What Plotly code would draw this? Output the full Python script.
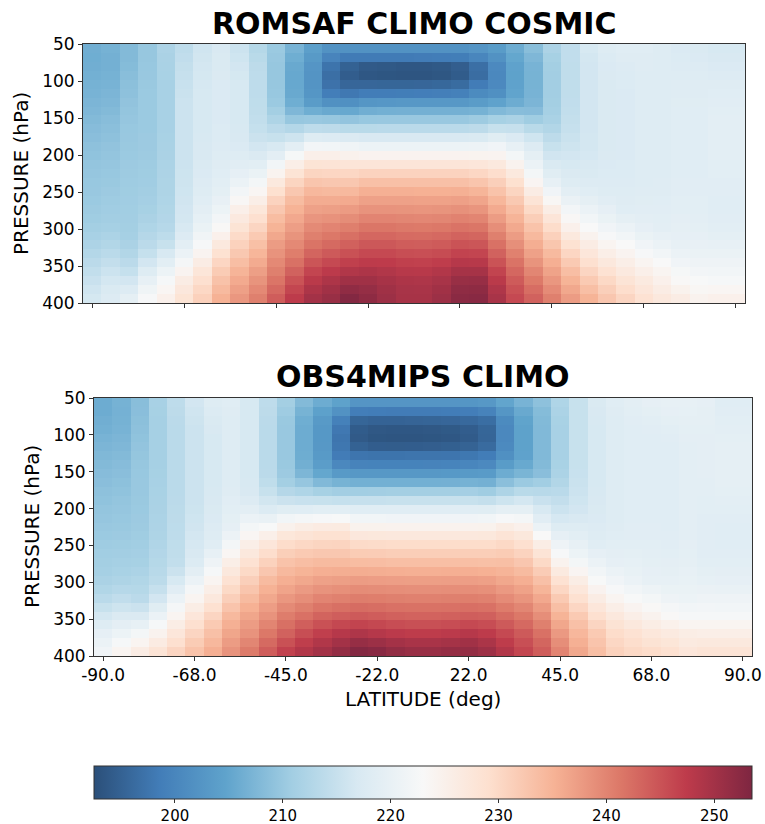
import numpy as np
import plotly.graph_objects as go

# ---------------- data ----------------
latitude_edges = list(range(-90, 95, 5))              # 36 latitude bins
pressure_edges = list(np.linspace(50, 400, 30))       # 29 pressure levels (hPa)
lat_tick_vals = [-87.5, -62.5, -37.5, -12.5, 12.5, 37.5, 62.5, 87.5]
lat_tick_text = ["-90.0", "-68.0", "-45.0", "-22.0", "22.0", "45.0", "68.0", "90.0"]
p_tick_vals = [50, 100, 150, 200, 250, 300, 350, 400]
cbar_ticks = [200, 210, 220, 230, 240, 250]

# temperature (K) profiles, one list per latitude bin, top (50 hPa) -> bottom (400 hPa)
romsaf_profiles = [
    [206.3,206.2,206.3,206.5,206.8,207.0,207.3,207.6,208.0,208.3,208.6,209.0,209.2,209.5,209.7,209.9,210.0,210.2,210.4,210.6,211.0,211.5,212.0,212.8,213.6,214.4,215.2,216.0,216.6],
    [206.8,206.6,206.6,206.8,207.0,207.3,207.6,208.0,208.4,208.7,209.0,209.3,209.5,209.7,209.9,210.1,210.3,210.5,210.7,210.9,211.3,211.9,212.6,213.5,214.5,215.5,216.4,217.2,217.8],
    [208.0,208.0,208.2,208.5,208.8,209.0,209.3,209.5,209.7,209.9,210.0,210.1,210.2,210.3,210.4,210.5,210.6,210.7,210.8,210.9,211.0,211.3,211.8,212.6,213.6,214.8,216.3,217.8,219.3],
    [209.8,209.8,209.9,210.0,210.1,210.2,210.2,210.2,210.2,210.2,210.3,210.3,210.4,210.5,210.6,210.7,210.9,211.1,211.4,211.8,212.3,212.9,213.6,214.8,216.3,218.0,219.8,221.3,222.6],
    [212.0,211.8,211.7,211.6,211.5,211.5,211.5,211.5,211.5,211.5,211.6,211.7,211.8,211.9,212.0,212.1,212.2,212.3,212.5,212.7,213.1,213.9,215.0,216.9,218.8,220.8,222.5,223.8,225.0],
    [214.0,214.3,214.6,214.9,215.1,215.3,215.5,215.5,215.5,215.5,215.5,215.5,215.5,215.6,215.7,215.8,215.9,216.1,216.3,216.5,216.9,217.8,219.0,220.5,222.2,224.2,226.0,227.2,228.2],
    [216.0,216.2,216.4,216.6,216.7,216.8,216.8,216.8,216.8,216.8,216.9,217.0,217.1,217.3,217.5,217.8,218.1,218.5,219.0,219.6,220.4,221.4,222.6,224.2,226.0,227.6,229.0,230.1,231.1],
    [217.0,217.2,217.3,217.4,217.5,217.5,217.5,217.5,217.5,217.6,217.7,217.8,218.0,218.2,218.5,218.8,219.2,219.9,220.8,221.9,223.3,225.0,226.8,228.7,230.4,231.8,233.1,234.2,235.2],
    [215.5,215.9,216.3,216.6,216.8,216.8,216.8,216.8,216.8,216.9,217.1,217.5,218.0,218.7,219.5,220.6,221.9,223.5,225.2,226.7,228.2,229.7,231.0,232.3,233.6,234.9,236.0,237.1,238.0],
    [213.0,213.4,213.8,214.0,214.0,214.0,214.1,214.2,214.4,214.8,215.4,216.3,217.4,218.8,220.4,222.0,223.7,225.6,227.4,229.0,230.5,232.0,233.4,234.7,235.9,237.2,238.4,239.5,240.5],
    [210.2,210.0,209.8,209.8,209.8,209.9,210.2,211.0,212.2,213.6,215.0,216.9,219.0,221.6,224.3,226.8,228.9,230.8,232.4,233.8,235.0,236.3,237.5,238.5,239.5,240.5,241.6,242.8,244.0],
    [207.0,206.2,205.6,205.4,205.4,205.6,206.2,207.6,209.8,212.8,215.8,219.0,222.4,225.6,228.2,230.6,232.4,233.9,235.1,236.2,237.3,238.4,239.5,240.7,242.0,243.5,245.0,246.3,247.5],
    [204.0,203.2,202.5,202.3,202.3,202.6,203.6,206.2,210.0,214.0,218.0,221.8,225.2,228.2,230.6,232.7,234.4,235.8,237.0,238.2,239.4,240.5,241.7,243.2,244.8,246.4,247.8,249.0,250.0],
    [202.0,199.8,197.4,196.8,197.2,198.8,201.8,205.6,209.8,213.8,217.8,221.6,225.2,228.0,230.4,232.4,234.2,235.8,237.2,238.6,240.0,241.3,242.7,244.3,246.0,247.6,249.0,250.2,251.0],
    [202.0,198.4,195.0,194.4,195.6,198.0,201.6,205.4,209.4,213.4,217.4,221.2,224.8,227.8,230.3,232.4,234.3,236.0,237.6,239.1,240.6,242.1,243.6,245.2,246.9,248.6,250.3,251.8,253.0],
    [202.0,198.4,194.0,193.6,195.6,198.6,202.6,206.3,209.9,213.4,217.0,220.8,224.4,227.8,230.8,233.3,235.4,237.0,238.5,240.0,241.5,243.0,244.5,246.0,247.5,249.0,250.3,251.3,252.0],
    [202.0,198.4,193.8,193.4,195.5,198.6,202.8,206.5,210.0,213.5,217.0,220.8,224.4,227.8,230.8,233.3,235.4,237.0,238.5,240.0,241.5,243.0,244.5,246.0,247.4,248.6,249.6,250.3,250.6],
    [202.0,198.4,193.6,193.3,195.5,198.7,203.0,206.6,210.0,213.5,217.0,220.8,224.4,227.8,230.8,233.3,235.4,237.0,238.4,239.8,241.2,242.6,244.0,245.5,246.9,248.1,249.0,249.5,249.6],
    [202.0,198.5,193.6,193.3,195.6,198.8,203.0,206.6,210.0,213.5,217.0,220.8,224.4,227.8,230.8,233.3,235.3,236.9,238.3,239.7,241.1,242.5,243.9,245.4,246.8,248.0,248.9,249.4,249.6],
    [202.0,198.6,193.8,193.5,195.8,199.0,203.0,206.6,210.0,213.5,217.0,220.8,224.4,227.8,230.8,233.3,235.3,236.9,238.4,239.8,241.3,242.8,244.2,245.7,247.2,248.5,249.5,250.2,250.6],
    [202.0,198.7,194.5,194.2,196.3,199.2,203.0,206.6,210.0,213.5,217.0,220.8,224.4,227.8,230.8,233.3,235.4,237.1,238.7,240.2,241.8,243.4,245.0,246.6,248.2,249.7,251.0,251.9,252.4],
    [202.5,200.0,196.8,196.5,198.5,200.8,203.6,206.8,210.4,213.8,217.3,220.9,224.3,227.5,230.3,232.7,234.8,236.6,238.3,239.9,241.5,243.1,244.7,246.4,248.1,249.7,251.1,252.0,252.5],
    [203.5,202.0,200.6,200.4,200.6,201.6,204.6,207.8,211.4,215.0,218.4,221.5,224.2,226.9,229.3,231.3,233.0,234.6,236.0,237.5,239.0,240.5,242.0,243.5,245.0,246.5,247.8,248.8,249.5],
    [206.0,205.2,204.6,204.5,204.6,204.9,206.0,208.4,211.8,214.9,217.5,219.7,222.0,224.5,226.9,228.9,230.6,232.2,233.6,234.9,236.1,237.5,238.9,240.4,241.8,243.0,244.2,245.2,246.0],
    [208.5,207.6,207.0,206.9,206.9,207.0,207.3,208.3,210.6,213.4,215.9,217.8,219.3,220.6,222.0,223.9,226.0,228.1,229.9,231.5,233.0,234.3,235.6,237.0,238.4,239.8,241.1,242.4,243.5],
    [212.0,211.4,211.0,210.9,210.9,210.9,211.0,211.2,211.7,212.6,213.8,215.0,216.1,217.2,218.4,219.8,221.5,223.6,225.8,227.8,229.5,231.1,232.6,234.1,235.5,236.8,238.0,239.3,240.5],
    [214.3,214.3,214.2,214.2,214.2,214.2,214.3,214.4,214.6,214.9,215.3,215.8,216.3,216.8,217.4,218.1,219.0,220.3,221.8,223.4,225.0,226.8,228.6,230.4,232.0,233.6,235.0,236.3,237.5],
    [216.8,216.5,216.3,216.3,216.3,216.3,216.3,216.3,216.3,216.3,216.4,216.5,216.7,217.0,217.3,217.8,218.5,219.4,220.5,221.7,223.0,224.5,226.0,227.5,229.0,230.5,232.0,233.5,235.0],
    [218.0,217.7,217.5,217.4,217.3,217.3,217.3,217.3,217.3,217.3,217.3,217.3,217.4,217.5,217.7,217.8,218.0,218.6,219.5,220.4,221.5,222.7,224.0,225.5,227.0,228.5,230.0,231.3,232.5],
    [218.5,218.2,217.9,217.7,217.6,217.5,217.5,217.5,217.5,217.5,217.5,217.5,217.5,217.6,217.7,217.8,218.0,218.2,218.5,219.4,220.5,221.7,223.0,224.2,225.5,226.7,228.0,229.3,230.5],
    [218.5,218.3,218.2,218.1,218.0,218.0,218.0,218.0,218.0,218.0,218.0,218.0,218.0,218.0,218.0,218.1,218.2,218.4,218.6,219.0,219.5,220.4,221.5,222.7,224.0,225.3,226.5,227.5,228.5],
    [218.0,218.0,218.0,218.0,218.0,218.0,218.0,218.0,218.0,218.0,218.0,218.0,218.0,218.0,218.1,218.2,218.3,218.5,218.7,218.8,219.0,219.7,220.5,221.7,223.0,224.0,225.0,226.0,227.0],
    [217.5,217.7,217.9,218.1,218.2,218.3,218.4,218.5,218.5,218.5,218.5,218.5,218.5,218.5,218.5,218.6,218.7,218.8,218.9,219.1,219.3,219.5,219.8,220.6,221.5,222.4,223.3,224.6,226.0],
    [217.3,217.5,217.8,218.0,218.2,218.3,218.4,218.5,218.5,218.5,218.5,218.5,218.5,218.5,218.5,218.6,218.7,218.8,218.9,219.0,219.2,219.5,219.9,220.4,221.0,221.9,222.8,223.6,224.5],
    [216.8,217.1,217.5,217.9,218.2,218.5,218.7,218.9,219.0,219.0,219.0,219.0,219.0,218.9,218.8,218.7,218.6,218.5,218.5,218.6,218.8,219.2,219.8,220.4,221.0,221.7,222.5,223.7,225.0],
    [216.8,217.1,217.5,217.9,218.2,218.5,218.7,218.9,219.0,219.0,219.0,219.0,219.0,218.9,218.8,218.7,218.6,218.5,218.5,218.6,218.8,219.2,219.8,220.4,221.0,221.7,222.5,223.7,225.0],
]

obs4mips_profiles = [
    [206.0,206.0,206.3,206.5,207.0,207.3,207.7,208.0,208.3,208.6,209.0,209.2,209.5,209.7,210.0,210.2,210.5,210.8,211.0,211.3,211.8,212.5,213.5,215.0,216.5,218.0,219.5,220.6,221.5],
    [206.8,206.7,206.8,207.0,207.3,207.6,208.0,208.3,208.6,208.9,209.2,209.5,209.7,209.9,210.1,210.3,210.6,210.9,211.2,211.6,212.2,213.1,214.3,215.8,217.4,219.1,220.8,222.5,224.0],
    [208.5,208.6,208.8,209.0,209.2,209.4,209.6,209.8,209.9,210.0,210.0,210.1,210.2,210.3,210.4,210.6,210.8,211.1,211.4,211.9,212.5,213.0,213.6,215.4,217.4,219.7,222.0,224.0,226.0],
    [211.5,211.4,211.3,211.3,211.3,211.3,211.3,211.3,211.4,211.5,211.6,211.7,211.8,211.9,212.0,212.2,212.4,212.7,213.0,213.3,213.7,214.9,216.3,218.4,220.5,222.5,224.5,226.3,228.0],
    [214.0,213.8,213.6,213.5,213.5,213.5,213.5,213.5,213.5,213.5,213.5,213.6,213.7,213.8,213.9,214.0,214.1,214.2,214.4,215.4,216.8,218.6,220.5,222.3,224.0,225.8,227.5,229.0,230.5],
    [216.3,216.0,215.8,215.6,215.5,215.5,215.5,215.5,215.5,215.5,215.5,215.6,215.7,215.9,216.1,216.4,216.7,217.1,217.6,219.0,220.5,222.3,224.0,225.8,227.5,229.0,230.5,231.8,233.0],
    [218.0,217.6,217.2,217.0,216.8,216.8,216.8,216.8,216.8,216.8,216.9,217.0,217.2,217.5,217.8,218.1,218.5,219.7,221.0,222.5,224.0,225.5,227.0,228.8,230.5,232.0,233.3,234.4,235.5],
    [218.5,218.3,218.1,218.0,218.0,218.0,218.0,218.0,218.0,218.1,218.3,218.6,218.9,219.2,219.5,220.7,222.0,223.7,225.5,227.0,228.5,229.9,231.3,232.8,234.3,235.4,236.5,237.5,238.5],
    [216.8,216.8,216.8,216.8,216.8,216.8,216.8,216.8,216.8,216.9,217.1,217.9,219.0,220.5,222.0,223.8,225.5,227.0,228.5,229.9,231.3,232.7,234.0,235.3,236.5,237.5,238.5,239.8,241.0],
    [214.0,213.8,213.6,213.5,213.5,213.5,213.5,213.5,213.6,214.1,215.0,216.2,217.6,220.2,222.9,225.3,227.5,229.3,231.0,232.5,234.0,235.2,236.3,237.4,238.5,239.9,241.3,242.7,244.0],
    [211.0,210.5,210.1,210.0,210.0,210.0,210.0,210.1,210.3,211.0,212.9,215.4,218.4,221.6,224.8,227.4,229.5,231.4,233.0,234.3,235.5,236.7,238.0,239.4,240.8,242.1,243.5,245.2,246.8],
    [208.0,206.9,206.2,206.0,206.0,206.0,206.1,206.4,207.4,209.7,212.3,215.1,218.5,222.2,225.8,228.1,230.2,232.0,233.6,235.0,236.3,237.7,239.0,240.5,242.0,243.8,245.5,247.1,248.5],
    [206.0,204.3,203.2,202.9,202.9,203.0,203.2,203.8,205.2,207.8,211.4,215.0,218.8,222.7,226.2,228.6,230.6,232.4,234.0,235.5,237.0,238.5,240.0,241.6,243.3,245.2,247.0,248.6,250.0],
    [204.5,202.0,199.3,198.0,197.6,197.8,198.5,200.4,203.3,206.9,210.9,214.8,218.9,222.8,226.4,228.7,230.7,232.4,234.0,235.6,237.2,238.8,240.4,242.1,243.9,246.1,248.2,250.0,251.5],
    [202.5,198.8,195.5,194.2,194.0,195.0,197.6,199.6,203.0,206.5,210.8,214.9,218.5,221.6,224.6,227.2,229.7,231.8,233.8,235.7,237.5,239.2,240.8,242.5,244.3,246.5,248.9,251.2,253.0],
    [202.5,198.6,195.2,193.7,193.4,194.4,197.4,199.5,203.0,206.5,210.9,214.9,218.5,221.6,224.6,227.1,229.6,231.7,233.7,235.6,237.4,239.1,240.7,242.3,244.0,246.1,248.3,250.6,252.5],
    [202.5,198.5,195.2,193.6,193.3,194.3,197.4,199.5,203.0,206.5,211.0,215.0,218.5,221.5,224.5,227.0,229.5,231.5,233.5,235.5,237.3,239.0,240.5,242.0,243.6,245.6,247.7,249.9,251.6],
    [202.5,198.5,195.3,193.6,193.3,194.4,197.5,199.5,203.0,206.5,211.0,215.0,218.5,221.5,224.5,227.0,229.5,231.5,233.5,235.4,237.2,238.9,240.4,241.9,243.4,245.3,247.3,249.4,251.0],
    [202.5,198.5,195.4,193.7,193.4,194.5,197.5,199.6,203.0,206.5,211.0,215.0,218.5,221.5,224.5,227.0,229.5,231.5,233.5,235.4,237.2,238.9,240.4,241.9,243.4,245.3,247.3,249.4,251.0],
    [202.5,198.6,195.6,193.9,193.6,194.7,197.6,199.7,203.1,206.6,211.0,215.0,218.5,221.5,224.5,227.0,229.5,231.5,233.5,235.5,237.3,239.0,240.5,242.0,243.6,245.6,247.7,249.8,251.4],
    [202.6,198.8,196.0,194.4,194.1,195.1,197.9,200.0,203.3,206.8,211.1,215.0,218.5,221.5,224.5,227.0,229.5,231.5,233.5,235.5,237.3,239.0,240.6,242.2,243.9,246.0,248.2,250.2,251.5],
    [203.0,199.6,196.6,195.5,195.4,196.2,198.6,200.6,203.4,206.6,210.6,214.6,218.4,221.6,224.6,227.1,229.5,231.5,233.4,235.3,237.1,238.8,240.4,242.0,243.7,245.6,247.5,249.2,250.5],
    [205.0,202.6,200.8,200.4,200.4,200.7,201.6,203.5,206.0,208.7,212.2,215.7,219.3,222.7,225.9,228.1,230.0,231.8,233.5,234.9,236.3,237.8,239.3,240.9,242.5,244.3,246.0,247.3,248.5],
    [207.0,205.6,204.8,204.5,204.5,204.5,204.6,205.5,207.2,210.2,213.4,216.4,219.4,222.2,225.0,227.1,229.0,230.8,232.5,234.0,235.5,236.9,238.3,239.8,241.3,242.8,244.3,245.4,246.3],
    [209.0,208.2,207.9,207.8,207.8,207.8,207.8,208.0,208.6,210.8,213.3,215.2,216.9,218.7,220.6,223.0,225.8,228.0,229.9,231.7,233.3,234.8,236.2,237.6,239.0,240.5,242.0,243.1,244.0],
    [212.3,211.9,211.6,211.5,211.5,211.5,211.5,211.6,211.9,212.6,213.5,214.5,215.5,216.7,218.0,219.5,221.0,222.7,224.5,226.6,228.5,230.3,232.0,233.5,235.0,236.4,237.8,239.0,240.0],
    [215.0,215.0,215.0,215.0,215.0,215.0,215.0,215.0,215.1,215.3,215.6,215.9,216.3,217.1,218.0,218.9,219.8,220.8,222.0,223.9,225.8,227.3,228.8,230.4,232.0,233.3,234.5,235.4,236.3],
    [217.3,217.1,216.9,216.8,216.8,216.8,216.8,216.8,216.8,216.8,216.9,217.0,217.2,217.5,217.8,218.1,218.5,219.5,220.5,221.6,222.8,224.4,226.0,227.5,229.0,230.5,232.0,232.8,233.5],
    [218.5,218.3,218.1,218.0,218.0,218.0,218.0,218.0,218.0,218.0,218.0,218.0,218.0,218.1,218.3,218.5,218.8,219.1,219.5,220.5,221.5,222.7,224.0,225.5,227.0,228.3,229.5,230.3,231.0],
    [219.0,218.8,218.6,218.5,218.5,218.5,218.5,218.5,218.5,218.5,218.5,218.5,218.5,218.5,218.6,218.7,218.9,219.2,219.6,220.0,220.5,221.6,222.8,224.2,225.5,227.0,228.5,229.3,230.0],
    [219.5,219.2,218.9,218.7,218.5,218.5,218.5,218.5,218.5,218.5,218.5,218.5,218.5,218.5,218.6,218.7,218.8,219.0,219.2,219.5,219.8,220.9,222.0,223.3,224.5,225.9,227.3,228.4,229.5],
    [219.8,219.5,219.2,218.9,218.7,218.5,218.5,218.5,218.5,218.5,218.5,218.5,218.5,218.5,218.5,218.6,218.7,218.9,219.1,219.4,219.8,220.4,221.0,222.2,223.3,224.9,226.5,227.7,228.8],
    [219.8,219.6,219.4,219.2,219.1,219.0,219.0,219.0,219.0,219.0,219.0,219.0,219.0,219.0,219.0,219.0,219.1,219.2,219.4,219.7,220.0,220.4,220.8,221.6,222.5,224.1,225.8,226.6,227.5],
    [219.5,219.4,219.3,219.2,219.1,219.1,219.1,219.1,219.1,219.0,219.0,218.9,218.8,218.7,218.6,218.6,218.6,218.7,218.9,219.2,219.6,220.3,221.1,221.8,222.5,224.0,225.5,226.8,228.0],
    [218.5,218.7,218.9,219.0,219.2,219.3,219.4,219.4,219.4,219.3,219.2,219.0,218.8,218.6,218.5,218.5,218.5,218.6,218.8,219.1,219.5,220.2,221.0,221.7,222.5,224.0,225.5,226.8,228.0],
    [218.5,218.7,218.9,219.0,219.2,219.3,219.4,219.4,219.4,219.3,219.2,219.0,218.8,218.6,218.5,218.5,218.5,218.6,218.8,219.1,219.5,220.2,221.0,221.7,222.5,224.0,225.5,226.8,228.0],
]

T_MIN, T_MAX = 192.5, 253.5

# matplotlib RdBu_r stops, drawn with alpha 0.85 on white
rdbu_r = [(5, 48, 97), (33, 102, 172), (67, 147, 195), (146, 197, 222), (209, 229, 240),
          (247, 247, 247), (253, 219, 199), (244, 165, 130), (214, 96, 77), (178, 24, 43), (103, 0, 31)]
alpha = 0.85
colorscale = []
for i, c in enumerate(rdbu_r):
    b = tuple(round(alpha * v + (1 - alpha) * 255) for v in c)
    colorscale.append([i / (len(rdbu_r) - 1), "rgb(%d,%d,%d)" % b])

W, H = 765, 824
FONT = "DejaVu Sans"

def px(xp):
    return xp / W

def py(yp):
    return 1 - yp / H

fig = go.Figure()
fig.add_trace(go.Heatmap(x=latitude_edges, y=pressure_edges, z=np.array(romsaf_profiles).T,
                         coloraxis="coloraxis", xaxis="x", yaxis="y", hoverinfo="skip"))
fig.add_trace(go.Heatmap(x=latitude_edges, y=pressure_edges, z=np.array(obs4mips_profiles).T,
                         coloraxis="coloraxis", xaxis="x2", yaxis="y2", hoverinfo="skip"))

axis_common = dict(showline=True, mirror=True, linecolor="#333333", linewidth=1,
                   ticks="outside", ticklen=4, tickwidth=1, tickcolor="#333333",
                   showgrid=False, zeroline=False,
                   tickfont=dict(family=FONT, size=17, color="#000000"))

fig.update_layout(
    width=W, height=H,
    margin=dict(l=0, r=0, t=0, b=0, autoexpand=False),
    paper_bgcolor="white", plot_bgcolor="white",
    font=dict(family=FONT, color="#000000"),
    showlegend=False,
    xaxis=dict(domain=[px(83), px(745)], anchor="y", range=[-90, 90],
               tickvals=lat_tick_vals, ticktext=lat_tick_text, showticklabels=False, **axis_common),
    yaxis=dict(domain=[py(303), py(44)], anchor="x", range=[400, 50],
               tickvals=p_tick_vals, **axis_common),
    xaxis2=dict(domain=[px(94), px(752)], anchor="y2", range=[-90, 90],
                tickvals=lat_tick_vals, ticktext=lat_tick_text, **axis_common),
    yaxis2=dict(domain=[py(656), py(398)], anchor="x2", range=[400, 50],
                tickvals=p_tick_vals, **axis_common),
    coloraxis=dict(
        colorscale=colorscale, cmin=T_MIN, cmax=T_MAX,
        colorbar=dict(orientation="h", x=px(423), xanchor="center", y=py(766), yanchor="top",
                      len=658 / W, lenmode="fraction", thickness=33, thicknessmode="pixels",
                      xpad=0, ypad=0, outlinewidth=1, outlinecolor="#333333",
                      tickvals=cbar_ticks, ticks="outside", ticklen=4, tickcolor="#333333",
                      tickfont=dict(family=FONT, size=15, color="#000000")),
    ),
    annotations=[
        dict(text="ROMSAF CLIMO COSMIC", x=px(414), y=py(24), xref="paper", yref="paper",
             showarrow=False, xanchor="center", yanchor="middle",
             font=dict(family=FONT, size=30, color="#000000", weight="bold")),
        dict(text="OBS4MIPS CLIMO", x=px(423), y=py(377), xref="paper", yref="paper",
             showarrow=False, xanchor="center", yanchor="middle",
             font=dict(family=FONT, size=30, color="#000000", weight="bold")),
        dict(text="PRESSURE (hPa)", x=px(21), y=py(174), xref="paper", yref="paper",
             showarrow=False, xanchor="center", yanchor="middle", textangle=-90,
             font=dict(family=FONT, size=20, color="#000000")),
        dict(text="PRESSURE (hPa)", x=px(32), y=py(527), xref="paper", yref="paper",
             showarrow=False, xanchor="center", yanchor="middle", textangle=-90,
             font=dict(family=FONT, size=20, color="#000000")),
        dict(text="LATITUDE (deg)", x=px(423), y=py(699), xref="paper", yref="paper",
             showarrow=False, xanchor="center", yanchor="middle",
             font=dict(family=FONT, size=20, color="#000000")),
    ],
)

fig.write_html("out.html")
